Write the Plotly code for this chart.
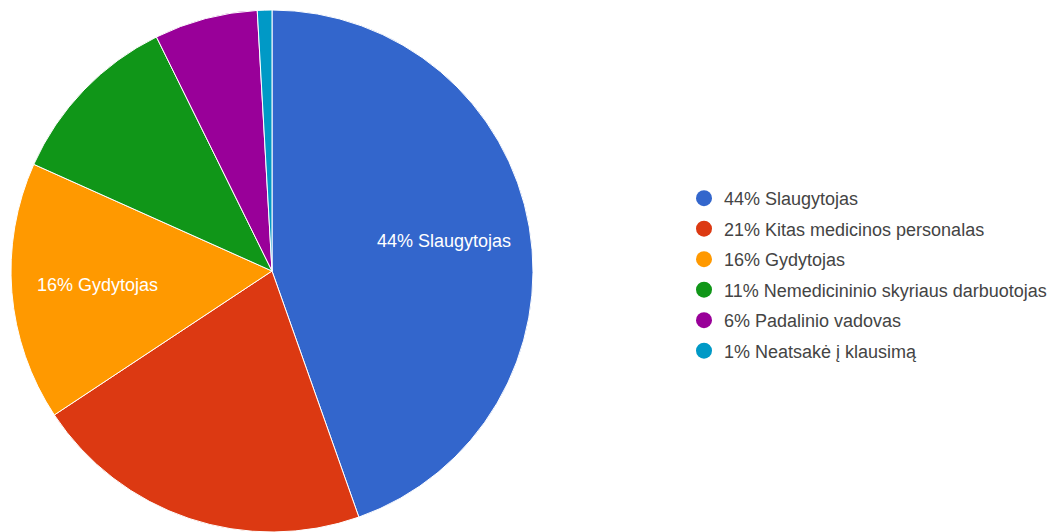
import math
import plotly.graph_objects as go

categories = ["Slaugytojas", "Kitas medicinos personalas", "Gydytojas",
              "Nemedicininio skyriaus darbuotojas", "Padalinio vadovas", "Neatsakė į klausimą"]
values = [44.6, 21.1, 16.0, 11.0, 6.4, 0.9]
pct_labels = ["44%", "21%", "16%", "11%", "6%", "1%"]
show_inside = [True, False, True, False, False, False]
colors = ["#3366cc", "#dc3912", "#ff9900", "#109618", "#990099", "#0099c6"]

legend_names = [f"{p} {c}" for p, c in zip(pct_labels, categories)]

W, H = 1056, 532
R = 261
cx, cy = 264, 263  # pie centre in figure pixels (page adds 8px body margin)
FONT = "Liberation Sans, Arial"

fig = go.Figure()
fig.add_trace(go.Pie(
    values=values,
    labels=legend_names,
    textinfo="none",
    marker=dict(colors=colors, line=dict(color="white", width=1)),
    sort=False,
    direction="clockwise",
    rotation=0,
    showlegend=False,
    hoverinfo="skip",
    domain=dict(x=[(cx - R) / W, (cx + R) / W], y=[1 - (cy + R) / H, 1 - (cy - R) / H]),
))

# inside labels placed along each slice's mid-angle, derived from the values
total = sum(values)
cum = 0.0
for v, p, c, s in zip(values, pct_labels, categories, show_inside):
    mid = (cum + v / 2) / total * 2 * math.pi
    cum += v
    if not s:
        continue
    r = 0.67 * R
    px = cx + r * math.sin(mid)
    py = cy - r * math.cos(mid)
    fig.add_annotation(
        x=px / W, y=1 - py / H, xref="paper", yref="paper",
        text=f"{p} {c}", showarrow=False, xanchor="center", yanchor="middle",
        font=dict(family=FONT, size=18, color="white"),
    )

for name, col in zip(legend_names, colors):
    fig.add_trace(go.Scatter(
        x=[None], y=[None], mode="markers", name=name, legendgroup=name,
        marker=dict(symbol="circle", size=16, color=col),
    ))

fig.update_layout(
    width=W, height=H,
    margin=dict(l=0, r=0, t=0, b=0),
    paper_bgcolor="white", plot_bgcolor="white",
    xaxis=dict(visible=False), yaxis=dict(visible=False),
    legend=dict(
        x=676 / W, xanchor="left", y=1 - 172 / H, yanchor="top",
        font=dict(family=FONT, size=18, color="#444444"),
        tracegroupgap=4.1, itemsizing="trace", bgcolor="rgba(0,0,0,0)",
    ),
)
fig.write_html("out.html")
